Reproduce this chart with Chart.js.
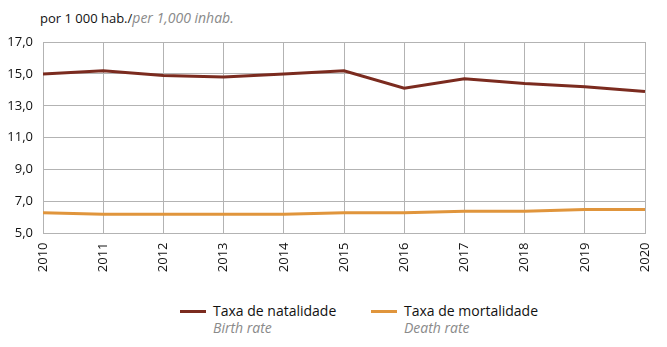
<!DOCTYPE html>
<html>
<head>
<meta charset="utf-8">
<script src="https://cdn.jsdelivr.net/npm/chart.js@4/dist/chart.umd.min.js"></script>
<style>
  body { margin: 0; background: #fff; font-family: "Open Sans", sans-serif; }
  #wrap { position: relative; width: 667px; height: 347px; }
  #unit { position: absolute; left: 40px; top: 8px; font-size: 13px; color: #111; white-space: nowrap; }
  #unit i { color: #8a8a8a; font-size: 14px; }
  .legend i { color: #8a8a8a; }
  #chart-box { position: absolute; left: 0; top: 0; width: 667px; height: 285px; }
  .legend { position: absolute; top: 302px; font-size: 14px; color: #111; line-height: 17px; }
  .legend .swatch { position: absolute; left: -33px; top: 8px; width: 26px; height: 3px; }
</style>
</head>
<body>
<div id="wrap">
  <div id="unit">por 1 000 hab./<i>per 1,000 inhab.</i></div>
  <div id="chart-box"><canvas id="rates"></canvas></div>
  <div class="legend" style="left:213px"><span class="swatch" style="background:#7b2b1f"></span>Taxa de natalidade<br><i>Birth rate</i></div>
  <div class="legend" style="left:404px"><span class="swatch" style="background:#e0953c"></span>Taxa de mortalidade<br><i>Death rate</i></div>
</div>
<script>
// Years on the x axis
const years = ['2010', '2011', '2012', '2013', '2014', '2015', '2016', '2017', '2018', '2019', '2020'];
// Rates per 1 000 inhabitants
const birthRate = [15.0, 15.2, 14.9, 14.8, 15.0, 15.2, 14.1, 14.7, 14.4, 14.2, 13.9];
const deathRate = [6.3, 6.2, 6.2, 6.2, 6.2, 6.3, 6.3, 6.4, 6.4, 6.5, 6.5];
// Y axis ticks
const yTicks = [5, 7, 9, 11, 13, 15, 17];

const gridColor = '#b3b3b3';
const tickFont = { family: 'Open Sans', size: 13 };

new Chart(document.getElementById('rates'), {
    type: 'line',
    data: {
        labels: years,
        datasets: [
            { label: 'Taxa de natalidade', data: birthRate, borderColor: '#7b2b1f', borderWidth: 3, pointRadius: 0, tension: 0 },
            { label: 'Taxa de mortalidade', data: deathRate, borderColor: '#e0953c', borderWidth: 3, pointRadius: 0, tension: 0 }
        ]
    },
    options: {
        responsive: true,
        maintainAspectRatio: false,
        animation: false,
        layout: { padding: { top: 42, right: 22, left: 0, bottom: 0 } },
        plugins: { legend: { display: false }, tooltip: { enabled: false } },
        scales: {
            x: {
                grid: { color: gridColor, drawTicks: false },
                border: { color: gridColor },
                ticks: { color: '#111', font: tickFont, minRotation: 90, maxRotation: 90, padding: 9 },
                afterFit: function(axis) {
                    axis.height = 51.5;
                    axis.paddingLeft = 0;
                    axis.paddingRight = 0;
                }
            },
            y: {
                min: yTicks[0],
                max: yTicks[yTicks.length - 1],
                grid: { color: gridColor, drawTicks: false },
                border: { color: gridColor },
                afterBuildTicks: function(axis) { axis.ticks = yTicks.map(v => ({ value: v })); },
                ticks: {
                    color: '#111',
                    font: tickFont,
                    padding: 10,
                    callback: v => v.toFixed(1).replace('.', ',')
                },
                afterFit: function(axis) { axis.width = 43; }
            }
        }
    }
});
</script>
</body>
</html>
